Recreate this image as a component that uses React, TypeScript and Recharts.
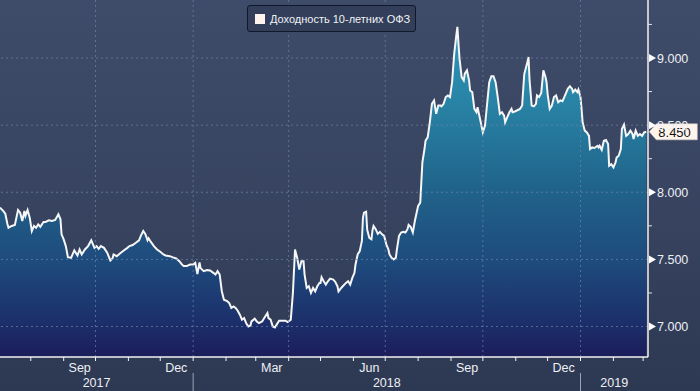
import { AreaChart, Area, XAxis, YAxis, ReferenceLine, ReferenceDot } from "recharts"

const START = Date.UTC(2017, 6, 3)
const DAY = 86400000
const toDay = (y: number, m: number, d = 1) => (Date.UTC(y, m, d) - START) / DAY

// days since 2017-07-03
const days = [
  0, 3, 5, 7, 8, 11, 14, 17, 19, 21, 23, 24, 26, 28, 30, 32, 34, 36, 38, 41, 43, 46, 49, 52, 55, 57, 58, 60, 62, 64,
  67, 70, 73, 75, 77, 80, 83, 86, 89, 91, 93, 95, 98, 101, 104, 106, 107, 110, 113, 116, 120, 122, 125, 128, 131, 133,
  135, 137, 139, 140, 142, 145, 148, 151, 154, 156, 160, 163, 166, 169, 171, 173, 176, 179, 182, 184, 186, 188, 189,
  192, 195, 198, 201, 203, 205, 207, 209, 211, 214, 216, 218, 220, 222, 224, 226, 228, 230, 232, 234, 236, 237, 240,
  242, 244, 247, 249, 252, 253, 255, 257, 259, 261, 263, 266, 269, 271, 274, 276, 278, 280, 282, 284, 286, 287, 289,
  291, 293, 295, 297, 299, 301, 302, 303, 305, 307, 309, 311, 314, 316, 318, 319, 321, 323, 326, 328, 330, 332, 334,
  335, 337, 339, 341, 342, 343, 345, 346, 348, 350, 351, 352, 354, 356, 358, 360, 362, 364, 366, 367, 369, 371, 373,
  374, 376, 378, 380, 382, 384, 385, 387, 389, 391, 394, 396, 398, 400, 401, 403, 405, 407, 409, 411, 413, 415, 416,
  418, 420, 422, 424, 426, 428, 430, 431, 432, 433, 435, 437, 438, 440, 442, 443, 445, 447, 449, 450, 452, 455, 457,
  459, 461, 463, 465, 467, 469, 471, 473, 475, 476, 478, 480, 482, 483, 485, 487, 490, 492, 494, 497, 498, 499, 501,
  503, 505, 506, 508, 510, 512, 514, 515, 516, 518, 520, 522, 524, 526, 528, 530, 531, 533, 535, 537, 539, 540, 542,
  544, 545, 547, 548, 549, 551, 553, 555, 556, 558, 560, 563, 564, 565, 567, 569, 571, 573, 574, 576, 578, 580, 581,
  583, 585, 586, 588, 590, 592, 594, 596, 597, 599, 601, 603, 605, 607, 609,
]

const yields = [
  7.886, 7.861, 7.84, 7.764, 7.736, 7.749, 7.756, 7.868, 7.848, 7.786, 7.861, 7.824, 7.868, 7.811, 7.711, 7.749,
  7.736, 7.761, 7.743, 7.779, 7.779, 7.791, 7.786, 7.794, 7.836, 7.799, 7.687, 7.649, 7.599, 7.517, 7.512, 7.567,
  7.529, 7.574, 7.537, 7.574, 7.599, 7.642, 7.586, 7.599, 7.579, 7.599, 7.586, 7.55, 7.492, 7.507, 7.537, 7.524,
  7.544, 7.562, 7.586, 7.599, 7.607, 7.624, 7.642, 7.681, 7.711, 7.687, 7.642, 7.657, 7.632, 7.599, 7.574, 7.557,
  7.537, 7.529, 7.524, 7.515, 7.507, 7.487, 7.467, 7.45, 7.45, 7.462, 7.462, 7.475, 7.39, 7.478, 7.435, 7.412, 7.42,
  7.417, 7.4, 7.387, 7.412, 7.387, 7.263, 7.2, 7.19, 7.175, 7.138, 7.15, 7.138, 7.118, 7.088, 7.051, 7.063, 7.025,
  7.0, 7.008, 7.038, 7.058, 7.038, 7.025, 7.038, 7.063, 7.1, 7.063, 7.051, 7.0, 6.993, 7.018, 7.043, 7.043, 7.043,
  7.033, 7.051, 7.25, 7.574, 7.512, 7.425, 7.487, 7.487, 7.387, 7.287, 7.3, 7.25, 7.287, 7.262, 7.3, 7.325, 7.325,
  7.367, 7.337, 7.312, 7.337, 7.357, 7.35, 7.332, 7.3, 7.262, 7.282, 7.3, 7.325, 7.337, 7.312, 7.362, 7.4, 7.462,
  7.537, 7.562, 7.637, 7.81, 7.848, 7.855, 7.72, 7.661, 7.65, 7.717, 7.749, 7.725, 7.69, 7.705, 7.687, 7.675, 7.612,
  7.574, 7.537, 7.512, 7.5, 7.512, 7.574, 7.675, 7.7, 7.705, 7.7, 7.725, 7.757, 7.742, 7.7, 7.79, 7.898, 7.923,
  8.222, 8.322, 8.384, 8.409, 8.521, 8.659, 8.684, 8.584, 8.646, 8.646, 8.64, 8.659, 8.709, 8.721, 8.709, 8.82,
  9.033, 9.17, 9.232, 9.107, 8.995, 8.858, 8.833, 8.883, 8.908, 8.833, 8.758, 8.746, 8.621, 8.596, 8.633, 8.559,
  8.447, 8.496, 8.659, 8.82, 8.865, 8.865, 8.82, 8.709, 8.584, 8.596, 8.571, 8.521, 8.559, 8.596, 8.621, 8.596,
  8.601, 8.609, 8.621, 8.646, 8.88, 8.97, 9.007, 8.833, 8.646, 8.64, 8.659, 8.721, 8.709, 8.74, 8.908, 8.858, 8.82,
  8.733, 8.621, 8.646, 8.709, 8.721, 8.671, 8.684, 8.678, 8.696, 8.733, 8.771, 8.79, 8.771, 8.746, 8.765, 8.746,
  8.765, 8.709, 8.621, 8.521, 8.459, 8.446, 8.42, 8.322, 8.334, 8.33, 8.346, 8.334, 8.346, 8.316, 8.384, 8.389,
  8.359, 8.197, 8.209, 8.185, 8.222, 8.259, 8.272, 8.322, 8.471, 8.504, 8.42, 8.434, 8.459, 8.434, 8.396, 8.459,
  8.42, 8.434, 8.42, 8.446, 8.45,
]

const yTicks = [7, 7.25, 7.5, 7.75, 8, 8.25, 8.5, 8.75, 9, 9.25]
const yGrid = [7, 7.5, 8, 8.5, 9]
const monthNames = ["Jan", "Feb", "Mar", "Apr", "May", "Jun", "Jul", "Aug", "Sep", "Oct", "Nov", "Dec"]
const labelledMonths = [2, 5, 8, 11]
const monthStarts: number[] = []
for (let i = 0; i < 20; i++) monthStarts.push(toDay(2017, 7 + i))
const quarterStarts = [toDay(2017, 9), toDay(2018, 0), toDay(2018, 3), toDay(2018, 6), toDay(2018, 9), toDay(2019, 0)]
const yearBreaks = [toDay(2018, 0), toDay(2019, 0)]
const END = 610.6
const yearLabels = [
  { day: (0 + yearBreaks[0]) / 2, label: "2017" },
  { day: (yearBreaks[0] + yearBreaks[1]) / 2, label: "2018" },
  { day: (yearBreaks[1] + END) / 2, label: "2019" },
]
const SERIES = "Доходность 10-летних ОФЗ"
const LAST = yields[yields.length - 1]

const data = days.map((d, i) => ({ day: d, v: yields[i] }))

const FONT = "'Liberation Sans', Arial, sans-serif"
const TXT = "#eef0f4"

function MonthTick({ x, y, payload }: any) {
  const m = new Date(START + payload.value * DAY).getUTCMonth()
  // month label sits mid-month; skip months whose middle is past the data
  if (!labelledMonths.includes(m) || payload.value + 15 > END) return <g />
  return (
    <text x={x + 16} y={y + 11} textAnchor="middle" fill={TXT} fontSize={12.5} fontFamily={FONT}>
      {monthNames[m]}
    </text>
  )
}

function YearTick({ x, y, payload }: any) {
  if (yearBreaks.includes(payload.value)) {
    return <line x1={x} x2={x} y1={y - 1} y2={y + 18} stroke="#9aa3b5" strokeWidth={1} />
  }
  const yl = yearLabels.find((l) => l.day === payload.value)
  return (
    <text x={x} y={y + 13} textAnchor="middle" fill={TXT} fontSize={12.5} fontFamily={FONT}>
      {yl ? yl.label : ""}
    </text>
  )
}

function PriceTick({ x, y, payload }: any) {
  const v = payload.value
  if (!yGrid.includes(v)) {
    return <line x1={x} x2={x + 4} y1={y} y2={y} stroke="#dfe3ea" strokeWidth={1} />
  }
  return (
    <g>
      <path d={`M${x + 1},${y - 4} L${x + 8},${y} L${x + 1},${y + 4} Z`} fill="#ffffff" />
      <text x={x + 9} y={y + 4.5} textAnchor="start" fill={TXT} fontSize={12.5} fontFamily={FONT}>
        {v.toFixed(3)}
      </text>
    </g>
  )
}

function Callout({ cx, cy }: any) {
  const t = cx + 3
  return (
    <g>
      <path
        d={`M${t},${cy} L${t + 7},${cy - 8} L${t + 48},${cy - 8} L${t + 48},${cy + 8} L${t + 7},${cy + 8} Z`}
        fill="#fff4ec"
        stroke="#d9cfc8"
        strokeWidth={0.5}
      />
      <text x={t + 9} y={cy + 5} fill="#121212" fontSize={13} fontFamily={FONT}>
        {LAST.toFixed(3)}
      </text>
    </g>
  )
}

export default function App() {
  return (
    <div
      style={{
        position: "absolute",
        left: 0,
        top: 0,
        width: 700,
        height: 391,
        background: "linear-gradient(180deg, #3f4c69 0%, #36425e 60%, #2d3852 100%)",
        fontFamily: FONT,
      }}
    >
      <AreaChart width={700} height={391} data={data} margin={{ top: 0, right: 0, bottom: 0, left: 0 }}>
        <defs>
          <linearGradient id="areaFill" gradientUnits="userSpaceOnUse" x1="0" y1="0" x2="0" y2="357">
            <stop offset="0%" stopColor="#2e9cc0" />
            <stop offset="28%" stopColor="#2884a6" />
            <stop offset="53%" stopColor="#20638a" />
            <stop offset="73%" stopColor="#1e4b7d" />
            <stop offset="91%" stopColor="#1c2e6a" />
            <stop offset="100%" stopColor="#1b1d5a" />
          </linearGradient>
        </defs>
        <XAxis
          dataKey="day"
          type="number"
          domain={[0, END]}
          allowDataOverflow
          ticks={monthStarts}
          interval={0}
          height={17}
          tickSize={4}
          tickMargin={0}
          tick={<MonthTick />}
          stroke="#f2f2f2"
          tickLine={{ stroke: "#f2f2f2" }}
          axisLine={{ stroke: "#f2f2f2", strokeWidth: 1.5 }}
        />
        <XAxis
          xAxisId="year"
          dataKey="day"
          type="number"
          domain={[0, END]}
          allowDataOverflow
          ticks={[yearLabels[0].day, yearBreaks[0], yearLabels[1].day, yearBreaks[1], yearLabels[2].day]}
          interval={0}
          height={17}
          tickSize={0}
          tickMargin={0}
          tickLine={false}
          axisLine={false}
          tick={<YearTick />}
        />
        <YAxis
          orientation="right"
          type="number"
          domain={[6.773, 9.432]}
          allowDataOverflow
          ticks={yTicks}
          interval={0}
          width={52}
          tickSize={0}
          tickMargin={0}
          tickLine={false}
          tick={<PriceTick />}
          axisLine={{ stroke: "#f2f2f2", strokeWidth: 1.5 }}
        />
        <Area
          type="linear"
          dataKey="v"
          stroke="none"
          fill="url(#areaFill)"
          fillOpacity={1}
          isAnimationActive={false}
          dot={false}
          activeDot={false}
        />
        {yGrid.map((v) => (
          <ReferenceLine key={"h" + v} y={v} stroke="#6d84a6" strokeOpacity={0.7} strokeDasharray="2 3" />
        ))}
        {quarterStarts.map((d) => (
          <ReferenceLine key={"v" + d} x={d} stroke="#6d84a6" strokeOpacity={0.7} strokeDasharray="2 3" />
        ))}
        <Area
          type="linear"
          dataKey="v"
          stroke="#f6f6f6"
          strokeWidth={2}
          fill="none"
          isAnimationActive={false}
          dot={false}
          activeDot={false}
        />
        <ReferenceDot x={days[days.length - 1]} y={LAST} r={0} ifOverflow="visible" shape={<Callout />} />
      </AreaChart>
      <div
        style={{
          position: "absolute",
          left: 247,
          top: 5,
          width: 167,
          height: 25,
          border: "1px solid #10182a",
          borderRadius: 3,
          background: "#323e5a",
          boxSizing: "content-box",
        }}
      >
        <div style={{ position: "absolute", left: 7, top: 8, width: 10, height: 10, background: "#fff3ee" }} />
        <div
          style={{
            position: "absolute",
            left: 22,
            top: 5,
            fontSize: 11,
            lineHeight: "16px",
            color: "#f0f2f5",
            whiteSpace: "nowrap",
          }}
        >
          {SERIES}
        </div>
      </div>
    </div>
  )
}
